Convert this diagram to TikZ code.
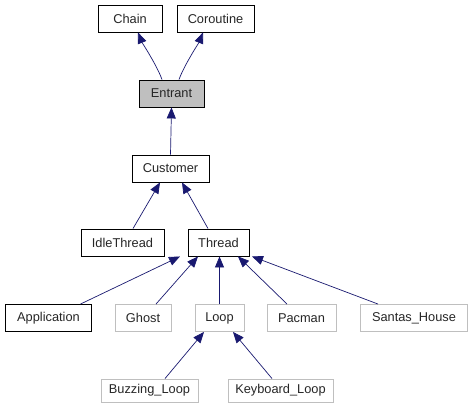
\documentclass[tikz,border=0pt]{standalone}
\usepackage{fontspec}
\setmainfont{Liberation Sans}
\usetikzlibrary{arrows.meta,calc}
\definecolor{edgeblue}{HTML}{191970}
\definecolor{boxgray}{HTML}{BFBFBF}
\begin{document}
\begin{tikzpicture}[x=1pt,y=-1pt,
  cls/.style={draw=black,line width=0.9pt,inner sep=0pt,font=\fontsize{12.8}{14}\selectfont,text=black!85,fill=white},
  ext/.style={cls,draw=boxgray},
  inh/.style={draw=edgeblue,line width=0.7pt,-{Triangle[length=11pt,width=9pt,fill=edgeblue]}}]
\useasboundingbox[fill=white] (0,0) rectangle (472,411);
\node[cls,minimum width=64pt,minimum height=27pt] (chain) at (130,18.5) {Chain};
\node[cls,minimum width=77pt,minimum height=27pt] (corout) at (215.5,18.5) {Coroutine};
\node[cls,fill=boxgray,minimum width=65pt,minimum height=27pt] (entrant) at (171.5,93.5) {Entrant};
\node[cls,minimum width=77pt,minimum height=27pt] (customer) at (170.5,168.5) {Customer};
\node[cls,minimum width=83pt,minimum height=27pt] (idle) at (122.5,242.5) {IdleThread};
\node[cls,minimum width=61pt,minimum height=27pt] (thread) at (218.5,242.5) {Thread};
\node[cls,minimum width=86pt,minimum height=27pt] (app) at (48.5,318) {Application};
\node[ext,minimum width=56pt,minimum height=27pt] (ghost) at (143,318) {Ghost};
\node[ext,minimum width=49pt,minimum height=27pt] (loop) at (219.5,318) {Loop};
\node[ext,minimum width=69pt,minimum height=27pt] (pacman) at (301.5,318) {Pacman};
\node[ext,minimum width=107pt,minimum height=27pt] (santas) at (414,318) {Santas\_House};
\node[ext,minimum width=97pt,minimum height=23pt] (buzz) at (149.5,390.5) {Buzzing\_Loop};
\node[ext,minimum width=105pt,minimum height=23pt] (keyb) at (280.5,390.5) {Keyboard\_Loop};
\draw[inh] ([xshift=-9.5pt]entrant.north) .. controls +(-5,-14) and +(4,10) .. ([xshift=8pt]chain.south);
\draw[inh] ([xshift=7.5pt]entrant.north) .. controls +(5,-14) and +(-4,10) .. ([xshift=-12.5pt]corout.south);
\draw[inh] (customer.north) -- (entrant.south);
\draw[inh] ([xshift=10.5pt]idle.north) -- ([xshift=-10.5pt]customer.south);
\draw[inh] ([xshift=-10.5pt]thread.north) -- ([xshift=11.5pt]customer.south);
\draw[inh] ([xshift=32pt]app.north) -- ([xshift=-38.5pt]thread.south);
\draw[inh] ([xshift=13pt]ghost.north) -- ([xshift=-20.5pt]thread.south);
\draw[inh] (loop.north) -- ([xshift=1pt]thread.south);
\draw[inh] ([xshift=-14.5pt]pacman.north) -- ([xshift=19.5pt]thread.south);
\draw[inh] ([xshift=-36pt]santas.north) -- ([xshift=33.5pt]thread.south);
\draw[inh] ([xshift=15.5pt]buzz.north) -- ([xshift=-15.5pt]loop.south);
\draw[inh] ([xshift=-8.5pt]keyb.north) -- ([xshift=13.5pt]loop.south);
\end{tikzpicture}
\end{document}
